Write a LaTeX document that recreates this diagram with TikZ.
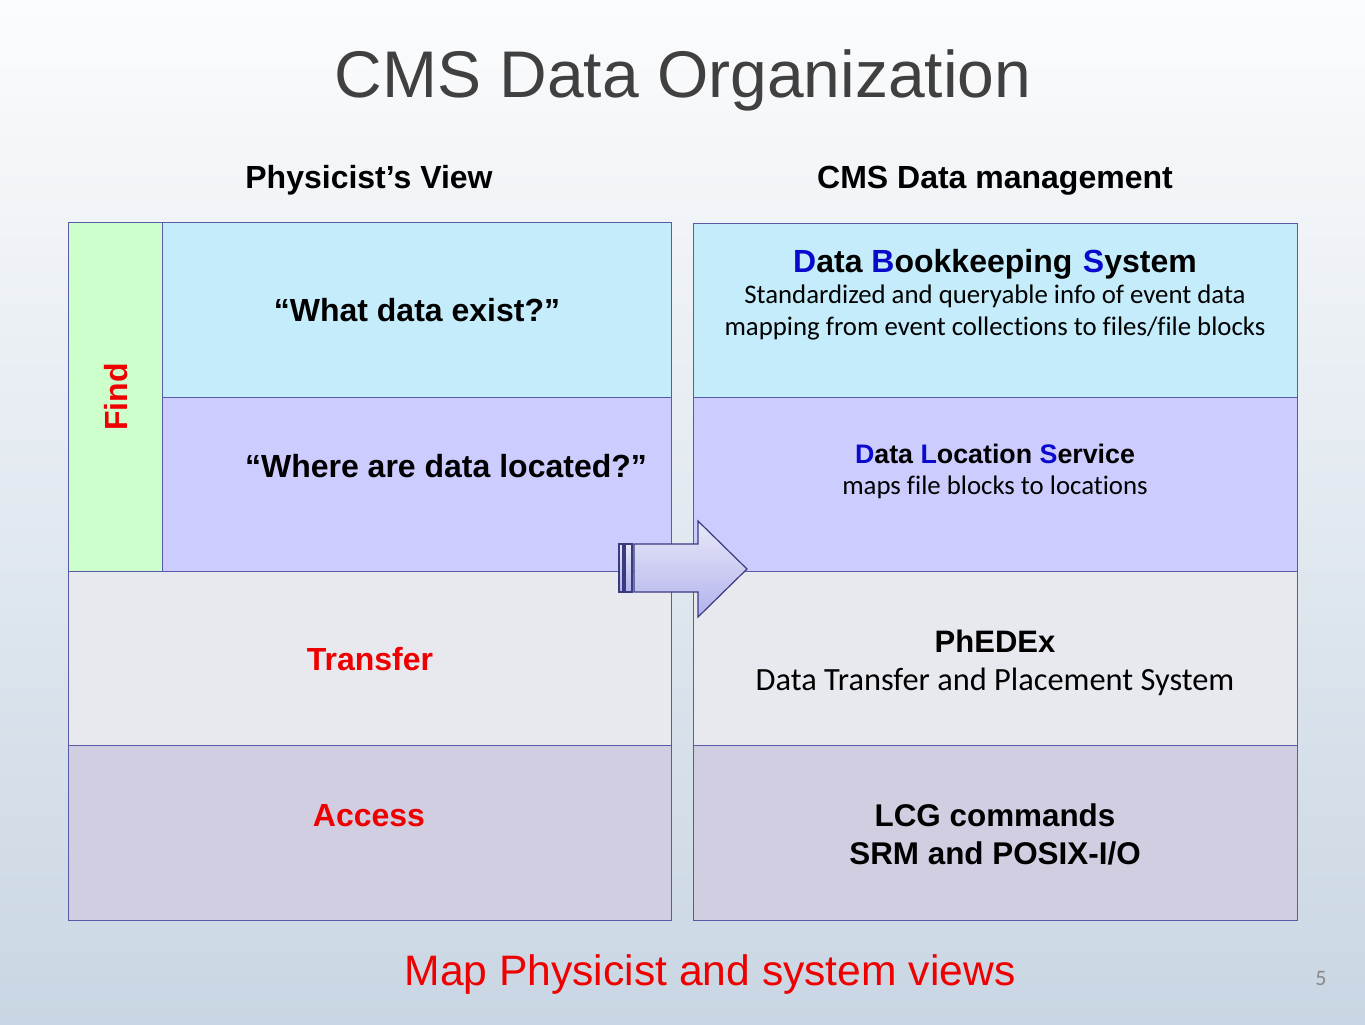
\documentclass[tikz,border=0pt]{standalone}
\usepackage{fontspec}
\setmainfont{Liberation Sans}
\newfontfamily\calfont[Ligatures=NoCommon]{Carlito}
\definecolor{bgtop}{HTML}{FBFCFD}
\definecolor{bgbot}{HTML}{C9D6E3}
\definecolor{cblue}{HTML}{C4ECFB}
\definecolor{clav}{HTML}{CCCCFF}
\definecolor{cgrey}{HTML}{E8E9EF}
\definecolor{cdark}{HTML}{D0CEE0}
\definecolor{cgreen}{HTML}{CCFFCC}
\definecolor{linec}{HTML}{5A5AA8}
\definecolor{titlec}{HTML}{404040}
\definecolor{redc}{HTML}{EE0000}
\definecolor{bluec}{HTML}{0A0ACC}
\definecolor{arrtop}{HTML}{E8E8F8}
\definecolor{arrbot}{HTML}{B2B2EE}
\definecolor{arrline}{HTML}{3A3A80}
\definecolor{numc}{HTML}{8A8A8A}
\tikzset{
  cellbox/.style={draw=linec, line width=0.5pt},
  hdr/.style={anchor=base, inner sep=0pt, font=\bfseries\fontsize{16}{18}\selectfont},
  qtext/.style={anchor=base, inner sep=0pt, font=\bfseries\fontsize{16}{18}\selectfont},
  redlbl/.style={anchor=base, inner sep=0pt, text=redc, font=\bfseries\fontsize{16}{18}\selectfont},
  systitle/.style={anchor=base, inner sep=0pt, font=\bfseries\fontsize{15.7}{18}\selectfont},
  subtext/.style={anchor=base, inner sep=0pt, font=\calfont\fontsize{13.4}{16}\selectfont},
}
\begin{document}
\begin{tikzpicture}[x=0.5pt, y=-0.5pt]
\useasboundingbox (0,0) rectangle (1365,1024);
\shade[top color=bgtop, bottom color=bgbot] (0,0) rectangle (1365,1024);

% title
\node[anchor=base, inner sep=0pt, text=titlec, font=\fontsize{33}{38}\selectfont] (title) at (683,97) {CMS Data Organization};
\node[hdr] (hleft) at (369,188) {Physicist’s View};
\node[hdr] (hright) at (995,188) {CMS Data management};

% left table
\filldraw[cellbox, fill=cgreen] (68,222) rectangle (162,571);
\filldraw[cellbox, fill=cblue] (162,222) rectangle (671,397);
\filldraw[cellbox, fill=clav] (162,397) rectangle (671,571);
\filldraw[cellbox, fill=cgrey] (68,571) rectangle (671,745);
\filldraw[cellbox, fill=cdark] (68,745) rectangle (671,920);

% right table
\filldraw[cellbox, fill=cblue] (693,223) rectangle (1297,397);
\filldraw[cellbox, fill=clav] (693,397) rectangle (1297,571);
\filldraw[cellbox, fill=cgrey] (693,571) rectangle (1297,745);
\filldraw[cellbox, fill=cdark] (693,745) rectangle (1297,920);

% left texts
\node[redlbl, anchor=center, rotate=90] (find) at (116,397) {Find};
\node[qtext] (q1) at (417,321) {“What data exist?”};
\node[qtext] (q2) at (446,477) {“Where are data located?”};
\node[redlbl] (transfer) at (370,670) {Transfer};
\node[redlbl] (access) at (369,826) {Access};

% right texts
\node[systitle, font=\bfseries\fontsize{16}{18}\selectfont] (dbs) at (995,272)
  {\textcolor{bluec}{D}ata \textcolor{bluec}{B}ookkeeping\hspace{0.33em}\textcolor{bluec}{S}ystem};
\node[subtext] (dbs1) at (995,303) {Standardized and queryable info of event data};
\node[subtext] (dbs2) at (995,335) {mapping from event collections to files/file blocks};
\node[systitle, font=\bfseries\fontsize{13.4}{16}\selectfont] (dls) at (995,463)
  {\textcolor{bluec}{D}ata \textcolor{bluec}{L}ocation \textcolor{bluec}{S}ervice};
\node[subtext] (dls1) at (995,494) {maps file blocks to locations};
\node[systitle, font=\bfseries\fontsize{15.5}{18}\selectfont] (phedex) at (995,652) {PhEDEx};
\node[subtext, font=\calfont\fontsize{16.2}{19}\selectfont] (phedex1) at (995,690) {Data Transfer and Placement System};
\node[systitle] (lcg) at (995,826) {LCG commands};
\node[systitle] (srm) at (995,864) {SRM and POSIX-I/O};

% arrow
\shadedraw[top color=arrtop, bottom color=arrbot, draw=arrline, line width=0.6pt, line join=miter]
  (634,544) -- (698,544) -- (698,521) -- (747,569) -- (698,617) -- (698,592) -- (634,592) -- cycle;
\shadedraw[top color=arrtop, bottom color=arrbot, draw=arrline, line width=0.6pt]
  (619,544) rectangle (623,592);
\shadedraw[top color=arrtop, bottom color=arrbot, draw=arrline, line width=0.6pt]
  (625,544) rectangle (632,592);

% bottom
\node[anchor=base, inner sep=0pt, text=redc, font=\fontsize{21.3}{25}\selectfont] (map) at (710,985) {Map Physicist and system views};
\node[anchor=base, inner sep=0pt, text=numc, font=\calfont\fontsize{11}{13}\selectfont] (pnum) at (1321,985) {5};
\end{tikzpicture}
\end{document}
